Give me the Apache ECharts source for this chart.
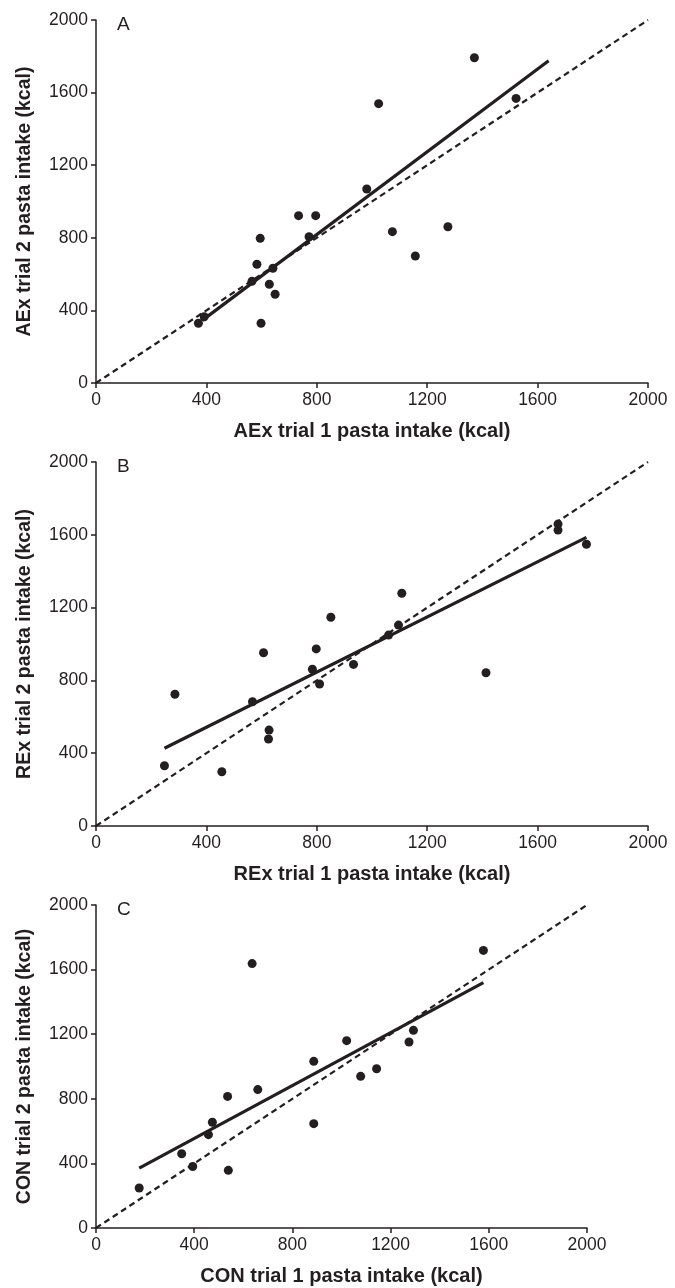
<!DOCTYPE html>
<html>
<head>
<meta charset="utf-8">
<script src="https://cdn.jsdelivr.net/npm/echarts@6/dist/echarts.min.js"></script>
<style>
  html, body { margin: 0; padding: 0; background: #fff; }
  #chart { width: 675px; height: 1288px; }
</style>
</head>
<body>
<div id="chart"></div>
<script>
// axis ticks shared by all three panels
const axisTicks = [0, 400, 800, 1200, 1600, 2000]

// panel A: aerobic exercise
const aexTrial1 = [371, 392, 565, 583, 595, 598, 628, 641, 649, 734, 772, 796, 981, 1024, 1074, 1157, 1275, 1371, 1522]
const aexTrial2 = [329, 365, 560, 654, 797, 329, 544, 632, 489, 922, 806, 922, 1069, 1539, 834, 700, 861, 1792, 1568]
const aexFit = [[385, 345], [1640, 1775]]

// panel B: resistance exercise
const rexTrial1 = [248, 286, 456, 567, 607, 625, 627, 784, 798, 810, 851, 933, 1060, 1096, 1108, 1413, 1674, 1674, 1777]
const rexTrial2 = [331, 724, 298, 683, 952, 478, 527, 861, 973, 780, 1147, 888, 1049, 1104, 1279, 842, 1659, 1626, 1548]
const rexFit = [[248, 427], [1777, 1586]]

// panel C: control
const conTrial1 = [176, 349, 394, 458, 474, 536, 539, 636, 659, 887, 887, 1021, 1078, 1143, 1275, 1293, 1578]
const conTrial2 = [248, 460, 381, 578, 655, 815, 357, 1637, 857, 1032, 646, 1160, 939, 986, 1152, 1224, 1719]
const conFit = [[176, 371], [1578, 1519]]

const identity = [[0, 0], [2000, 2000]]

const panels = [
  { letter: 'A', xName: 'AEx trial 1 pasta intake (kcal)', yName: 'AEx trial 2 pasta intake (kcal)', x: aexTrial1, y: aexTrial2, fit: aexFit, grid: { left: 96, top: 20, width: 552, height: 363 } },
  { letter: 'B', xName: 'REx trial 1 pasta intake (kcal)', yName: 'REx trial 2 pasta intake (kcal)', x: rexTrial1, y: rexTrial2, fit: rexFit, grid: { left: 96, top: 462, width: 552, height: 364 } },
  { letter: 'C', xName: 'CON trial 1 pasta intake (kcal)', yName: 'CON trial 2 pasta intake (kcal)', x: conTrial1, y: conTrial2, fit: conFit, grid: { left: 96, top: 905, width: 491, height: 323 } }
]

const ink = '#231f20'
const font = '"Liberation Sans", Arial, sans-serif'

function axisBase (name, nameSize) {
  return {
    type: 'value',
    min: axisTicks[0],
    max: axisTicks[axisTicks.length - 1],
    interval: axisTicks[1] - axisTicks[0],
    name: name,
    nameLocation: 'middle',
    nameTextStyle: { color: ink, fontSize: nameSize, fontWeight: 'bold', fontFamily: font },
    axisLine: { show: true, lineStyle: { color: ink, width: 1.5 } },
    axisTick: { show: true, length: 5, lineStyle: { color: ink, width: 1.5 } },
    axisLabel: { color: ink, fontSize: 17.5, fontFamily: font, margin: 8, formatter: v => String(v) },
    splitLine: { show: false }
  }
}

const option = {
  animation: false,
  backgroundColor: '#fff',
  grid: panels.map(p => p.grid),
  xAxis: panels.map((p, i) => Object.assign(axisBase(p.xName, 20), { gridIndex: i, nameGap: 38 })),
  yAxis: panels.map((p, i) => Object.assign(axisBase(p.yName, 19.5), { gridIndex: i, nameGap: 61, nameRotate: 90 })),
  graphic: panels.map(p => ({
    type: 'text',
    left: p.grid.left + 21,
    top: p.grid.top - 5,
    style: { text: p.letter, fill: ink, fontSize: 19, fontFamily: font }
  })),
  series: []
}

panels.forEach((p, i) => {
  // line of identity
  option.series.push({
    type: 'line',
    xAxisIndex: i,
    yAxisIndex: i,
    data: identity,
    showSymbol: false,
    symbol: 'none',
    lineStyle: { color: ink, width: 2.2, type: [6, 4] },
    z: 2
  })
  // regression line
  option.series.push({
    type: 'line',
    xAxisIndex: i,
    yAxisIndex: i,
    data: p.fit,
    showSymbol: false,
    symbol: 'none',
    lineStyle: { color: ink, width: 3.2 },
    z: 3
  })
  // individual participants
  option.series.push({
    type: 'scatter',
    xAxisIndex: i,
    yAxisIndex: i,
    data: p.x.map((v, k) => [v, p.y[k]]),
    symbol: 'circle',
    symbolSize: 9,
    itemStyle: { color: ink, opacity: 1 },
    z: 4
  })
})

const chart = echarts.init(document.getElementById('chart'), null, { renderer: 'canvas' })
chart.setOption(option)
</script>
</body>
</html>
